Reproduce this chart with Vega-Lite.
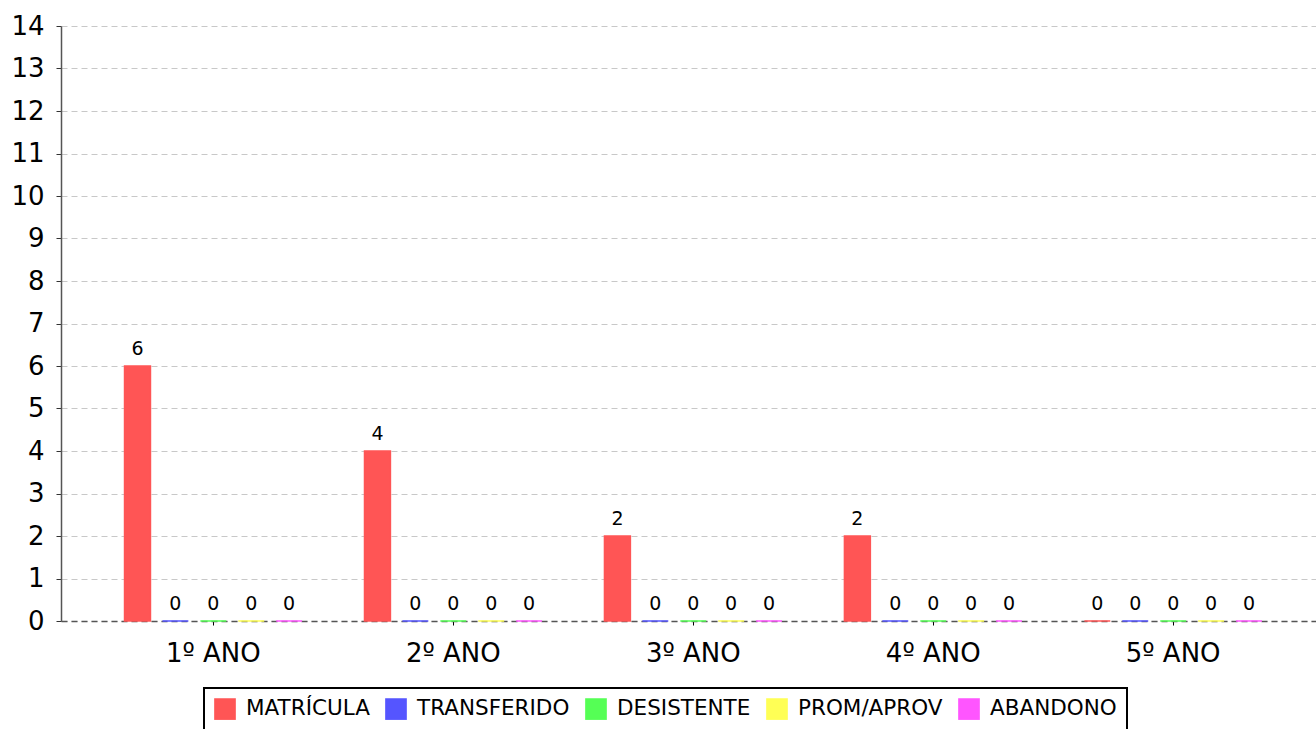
{
  "$schema": "https://vega.github.io/schema/vega-lite/v6.json",
  "width": 1255,
  "height": 595,
  "autosize": {"type": "none"},
  "padding": {"left": 61, "top": 26, "right": 0, "bottom": 108},
  "background": "white",
  "config": {
    "font": "DejaVu Sans",
    "view": {"stroke": null},
    "axis": {"labelFont": "DejaVu Sans", "labelColor": "#000000"}
  },
  "data": {
    "values": [
      {"ano": "1º ANO", "serie": "MATRÍCULA", "valor": 6},
      {"ano": "1º ANO", "serie": "TRANSFERIDO", "valor": 0},
      {"ano": "1º ANO", "serie": "DESISTENTE", "valor": 0},
      {"ano": "1º ANO", "serie": "PROM/APROV", "valor": 0},
      {"ano": "1º ANO", "serie": "ABANDONO", "valor": 0},
      {"ano": "2º ANO", "serie": "MATRÍCULA", "valor": 4},
      {"ano": "2º ANO", "serie": "TRANSFERIDO", "valor": 0},
      {"ano": "2º ANO", "serie": "DESISTENTE", "valor": 0},
      {"ano": "2º ANO", "serie": "PROM/APROV", "valor": 0},
      {"ano": "2º ANO", "serie": "ABANDONO", "valor": 0},
      {"ano": "3º ANO", "serie": "MATRÍCULA", "valor": 2},
      {"ano": "3º ANO", "serie": "TRANSFERIDO", "valor": 0},
      {"ano": "3º ANO", "serie": "DESISTENTE", "valor": 0},
      {"ano": "3º ANO", "serie": "PROM/APROV", "valor": 0},
      {"ano": "3º ANO", "serie": "ABANDONO", "valor": 0},
      {"ano": "4º ANO", "serie": "MATRÍCULA", "valor": 2},
      {"ano": "4º ANO", "serie": "TRANSFERIDO", "valor": 0},
      {"ano": "4º ANO", "serie": "DESISTENTE", "valor": 0},
      {"ano": "4º ANO", "serie": "PROM/APROV", "valor": 0},
      {"ano": "4º ANO", "serie": "ABANDONO", "valor": 0},
      {"ano": "5º ANO", "serie": "MATRÍCULA", "valor": 0},
      {"ano": "5º ANO", "serie": "TRANSFERIDO", "valor": 0},
      {"ano": "5º ANO", "serie": "DESISTENTE", "valor": 0},
      {"ano": "5º ANO", "serie": "PROM/APROV", "valor": 0},
      {"ano": "5º ANO", "serie": "ABANDONO", "valor": 0}
    ]
  },
  "encoding": {
    "x": {
      "field": "ano",
      "type": "nominal",
      "sort": ["1º ANO", "2º ANO", "3º ANO", "4º ANO", "5º ANO"],
      "scale": {"paddingInner": 0.21, "paddingOuter": 0.22, "align": 0.545},
      "axis": {
        "title": null,
        "labelAngle": 0,
        "labelFontSize": 26,
        "labelPadding": 15,
        "tickSize": 4,
        "tickColor": "#000000",
        "domainColor": "#555555",
        "domainDash": [6, 4],
        "domainWidth": 1.5
      }
    },
    "xOffset": {
      "field": "serie",
      "type": "nominal",
      "sort": ["MATRÍCULA", "TRANSFERIDO", "DESISTENTE", "PROM/APROV", "ABANDONO"],
      "scale": {"paddingInner": 0.316, "paddingOuter": 0.158}
    },
    "y": {
      "field": "valor",
      "type": "quantitative",
      "scale": {"domain": [0, 14], "nice": false},
      "axis": {
        "title": null,
        "values": [0, 1, 2, 3, 4, 5, 6, 7, 8, 9, 10, 11, 12, 13, 14],
        "labelFontSize": 26,
        "labelPadding": 12,
        "tickSize": 5,
        "tickColor": "#333333",
        "domainColor": "#555555",
        "domainWidth": 1.5,
        "gridColor": "#c8c8c8",
        "gridDash": [6, 4],
        "gridWidth": 1
      }
    }
  },
  "layer": [
    {
      "mark": {"type": "bar", "strokeWidth": 1.5},
      "encoding": {
        "color": {
          "field": "serie",
          "type": "nominal",
          "sort": ["MATRÍCULA", "TRANSFERIDO", "DESISTENTE", "PROM/APROV", "ABANDONO"],
          "scale": {
            "domain": ["MATRÍCULA", "TRANSFERIDO", "DESISTENTE", "PROM/APROV", "ABANDONO"],
            "range": ["#FF5555", "#5555FF", "#55FF55", "#FFFF55", "#FF55FF"]
          },
          "legend": {
            "title": null,
            "orient": "none",
            "direction": "horizontal",
            "legendX": 143,
            "legendY": 662,
            "strokeColor": "#000000",
            "fillColor": "#ffffff",
            "padding": 10,
            "symbolType": "square",
            "symbolSize": 470,
            "symbolStrokeWidth": 0,
            "symbolOpacity": 1,
            "labelFontSize": 21.5,
            "labelFont": "DejaVu Sans",
            "labelColor": "#000000",
            "labelOffset": 10,
            "columnPadding": 15,
            "encode": {"legend": {"update": {"strokeWidth": {"value": 2}}}}
          }
        },
        "stroke": {
          "field": "serie",
          "type": "nominal",
          "scale": {
            "domain": ["MATRÍCULA", "TRANSFERIDO", "DESISTENTE", "PROM/APROV", "ABANDONO"],
            "range": ["#FF5555", "#5555FF", "#55FF55", "#FFFF55", "#FF55FF"]
          },
          "legend": null
        }
      }
    },
    {
      "mark": {"type": "text", "dy": -7, "baseline": "bottom", "fontSize": 19, "color": "#000000"},
      "encoding": {
        "text": {"field": "valor", "type": "quantitative"}
      }
    }
  ]
}
